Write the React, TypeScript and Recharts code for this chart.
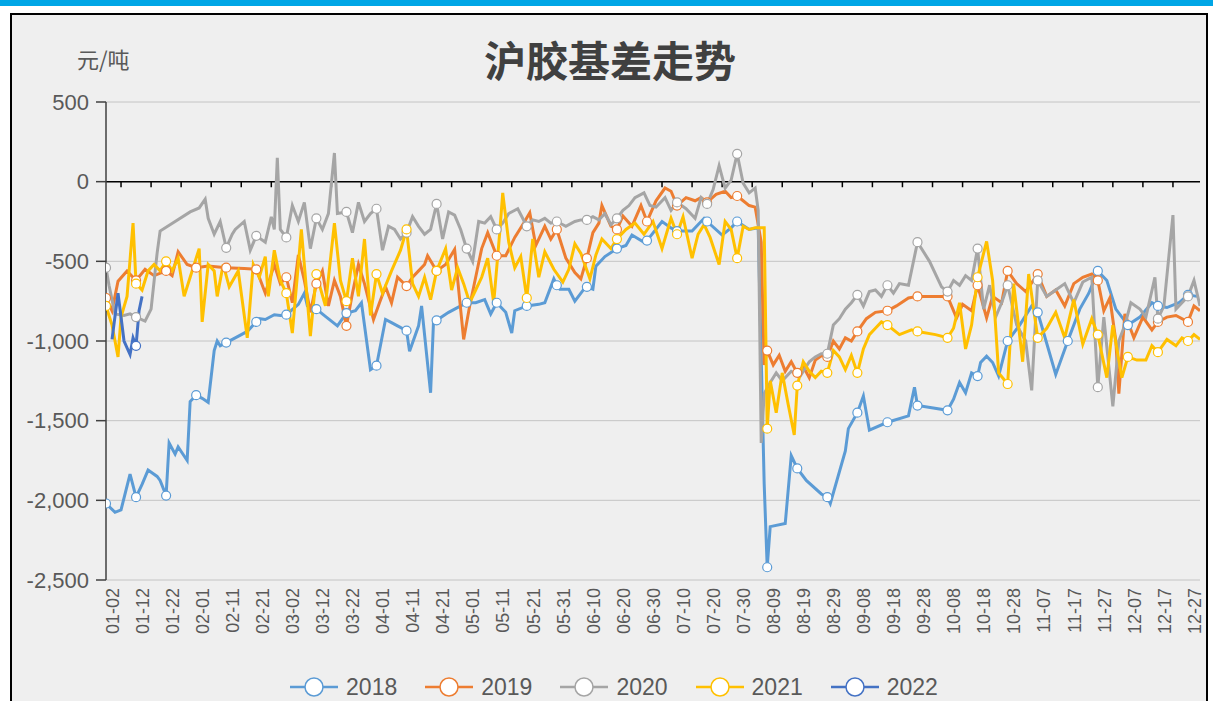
import React from 'react';
import { LineChart, Line, XAxis, YAxis, CartesianGrid, ReferenceLine, Legend } from 'recharts';

// x = day of year on a 2020 (leap) calendar, 2 = 01-02 ... 366 = 12-31
// each series: [day, basis 元/吨]
const s2018: [number, number][] = [
  [2, -2020], [5, -2075], [7, -2060], [10, -1835], [12, -1980], [14, -1900], [16, -1810], [19, -1850],
  [20, -1875], [22, -1970], [23, -1640], [25, -1710], [26, -1665], [29, -1750], [30, -1380], [32, -1340],
  [34, -1360], [36, -1385], [38, -1060], [39, -1000], [40, -1030], [42, -1010], [45, -980], [49, -940],
  [52, -880], [53, -860], [55, -865], [58, -835], [60, -840], [62, -835], [66, -770], [68, -700],
  [69, -780], [72, -800], [75, -845], [79, -905], [82, -825], [85, -810], [87, -760], [90, -1180],
  [92, -1155], [95, -865], [97, -885], [99, -905], [102, -935], [103, -1065], [106, -905], [107, -780],
  [110, -1325], [111, -865], [112, -870], [116, -820], [118, -800], [122, -760], [125, -760], [128, -740],
  [130, -830], [132, -760], [135, -820], [137, -950], [138, -810], [142, -780], [146, -770], [148, -760],
  [151, -610], [152, -650], [153, -675], [156, -675], [158, -750], [161, -675], [162, -660], [164, -675],
  [165, -530], [168, -470], [172, -420], [175, -400], [177, -335], [181, -380], [182, -370], [187, -250],
  [190, -290], [192, -310], [197, -310], [201, -230], [202, -250], [207, -335], [210, -290], [212, -250],
  [216, -300], [219, -290], [221, -1900], [222, -2420], [223, -2165], [228, -2145], [230, -1720], [232, -1800],
  [235, -1875], [240, -1960], [242, -1980], [243, -2020], [248, -1690], [249, -1550], [252, -1450], [254, -1345],
  [256, -1560], [262, -1510], [269, -1470], [271, -1290], [272, -1405], [282, -1435], [284, -1365], [286, -1260],
  [288, -1325], [290, -1200], [292, -1220], [293, -1135], [295, -1095], [297, -1135], [299, -1220], [302, -1000],
  [306, -900], [310, -780], [312, -820], [314, -950], [318, -1210], [322, -1000], [326, -800], [329, -700],
  [332, -560], [335, -620], [338, -800], [342, -900], [346, -850], [350, -760], [352, -780], [355, -790],
  [359, -760], [362, -710], [365, -720],
];

const s2019: [number, number][] = [
  [2, -730], [4, -810], [6, -625], [9, -560], [12, -620], [15, -550], [18, -590], [22, -560],
  [24, -590], [26, -440], [29, -520], [32, -540], [36, -530], [42, -540], [48, -545], [52, -550],
  [55, -700], [58, -520], [60, -640], [62, -600], [64, -760], [66, -460], [68, -620], [70, -820],
  [72, -640], [74, -560], [76, -780], [78, -620], [80, -720], [82, -905], [84, -700], [86, -520],
  [88, -640], [91, -865], [93, -760], [95, -660], [97, -760], [99, -600], [102, -655], [104, -600],
  [106, -560], [108, -520], [109, -465], [112, -560], [115, -520], [118, -425], [121, -990], [123, -780],
  [125, -600], [127, -420], [129, -320], [132, -465], [135, -465], [138, -350], [141, -260], [143, -195],
  [145, -400], [148, -280], [150, -360], [152, -300], [155, -480], [158, -570], [160, -610], [162, -480],
  [164, -320], [166, -260], [167, -150], [170, -280], [172, -300], [174, -215], [177, -280], [180, -150],
  [182, -250], [185, -120], [188, -40], [190, -60], [192, -150], [195, -100], [198, -120], [200, -100],
  [202, -130], [205, -80], [208, -60], [210, -100], [212, -90], [214, -120], [216, -150], [218, -160],
  [220, -380], [221, -1150], [222, -1060], [224, -1150], [226, -1090], [228, -1190], [230, -1130], [232, -1200],
  [234, -1160], [236, -1230], [238, -1120], [241, -1080], [242, -1100], [244, -1000], [246, -1050], [248, -980],
  [250, -1000], [252, -940], [255, -860], [258, -820], [262, -810], [265, -780], [269, -730], [272, -720],
  [278, -720], [282, -720], [285, -855], [287, -770], [290, -810], [292, -650], [295, -855], [297, -720],
  [300, -760], [302, -560], [305, -640], [308, -690], [312, -580], [315, -720], [318, -680], [321, -780],
  [324, -640], [327, -600], [330, -580], [332, -620], [334, -810], [336, -730], [338, -1000], [339, -1330],
  [341, -830], [344, -980], [347, -850], [350, -930], [352, -880], [355, -850], [358, -840], [362, -880],
  [364, -780], [366, -810],
];

const s2020: [number, number][] = [
  [2, -540], [3, -650], [5, -830], [8, -840], [10, -830], [12, -850], [15, -875], [17, -800],
  [19, -450], [20, -310], [25, -250], [30, -190], [33, -165], [35, -110], [36, -230], [38, -330],
  [40, -250], [42, -415], [44, -330], [45, -300], [48, -250], [50, -430], [52, -340], [55, -380],
  [57, -220], [58, -300], [59, 150], [60, -300], [62, -350], [64, -150], [66, -250], [68, -130],
  [70, -420], [72, -230], [74, -300], [76, -200], [78, 180], [79, -200], [82, -190], [84, -320],
  [86, -130], [88, -250], [90, -200], [92, -170], [94, -430], [96, -280], [98, -300], [100, -360],
  [102, -320], [104, -220], [106, -280], [108, -330], [110, -300], [112, -140], [114, -360], [116, -190],
  [118, -210], [120, -300], [122, -420], [124, -500], [126, -250], [128, -260], [130, -220], [132, -300],
  [134, -260], [136, -200], [139, -170], [142, -280], [144, -240], [146, -250], [148, -230], [150, -260],
  [152, -250], [155, -280], [158, -250], [160, -240], [162, -240], [164, -220], [166, -240], [168, -200],
  [170, -270], [172, -230], [174, -180], [176, -150], [178, -100], [181, -70], [183, -150], [185, -160],
  [188, -100], [190, -180], [192, -130], [195, -170], [198, -230], [200, -100], [202, -140], [204, -50],
  [206, 100], [208, -40], [210, 10], [212, 175], [214, -10], [216, -70], [218, -40], [219, -180],
  [220, -1640], [221, -1330], [223, -1260], [225, -1200], [227, -1250], [230, -1190], [233, -1220], [236, -1130],
  [238, -1100], [240, -1080], [242, -1080], [244, -900], [246, -860], [248, -800], [250, -760], [252, -710],
  [254, -780], [256, -690], [258, -680], [260, -720], [262, -650], [264, -700], [266, -640], [269, -650],
  [272, -380], [276, -500], [280, -660], [282, -690], [284, -620], [286, -650], [288, -590], [290, -620],
  [292, -420], [294, -800], [296, -650], [298, -850], [300, -760], [302, -650], [305, -900], [308, -1000],
  [310, -1310], [312, -620], [315, -720], [318, -680], [321, -640], [324, -760], [327, -630], [330, -600],
  [332, -1290], [334, -850], [337, -1410], [339, -1000], [341, -900], [343, -760], [346, -800], [348, -850],
  [351, -600], [352, -860], [354, -780], [357, -210], [358, -800], [360, -760], [362, -720], [364, -620],
  [366, -780],
];

const s2021: [number, number][] = [
  [2, -780], [4, -900], [6, -1100], [7, -850], [9, -720], [11, -260], [12, -640], [14, -680],
  [16, -560], [18, -520], [20, -560], [22, -500], [24, -560], [26, -480], [28, -720], [30, -600],
  [33, -420], [34, -880], [36, -520], [38, -560], [39, -720], [41, -520], [43, -660], [46, -560],
  [49, -980], [51, -520], [53, -600], [55, -470], [56, -720], [58, -430], [60, -620], [62, -700],
  [64, -950], [67, -300], [70, -970], [72, -580], [75, -780], [78, -260], [80, -620], [82, -750],
  [84, -480], [86, -720], [88, -360], [90, -840], [92, -580], [94, -700], [97, -560], [100, -430],
  [102, -300], [104, -640], [106, -720], [108, -600], [110, -740], [112, -560], [115, -420], [117, -680],
  [119, -540], [121, -640], [123, -760], [125, -680], [127, -600], [129, -480], [131, -760], [133, -320],
  [134, -70], [136, -380], [138, -540], [140, -470], [142, -730], [144, -360], [146, -600], [148, -440],
  [151, -550], [154, -630], [156, -550], [158, -390], [160, -450], [163, -610], [165, -460], [167, -360],
  [170, -420], [172, -360], [175, -300], [178, -260], [181, -330], [184, -250], [187, -420], [190, -230],
  [192, -330], [194, -220], [197, -480], [199, -330], [201, -270], [203, -350], [206, -520], [208, -250],
  [210, -300], [212, -480], [214, -280], [216, -300], [218, -290], [221, -290], [222, -1550], [223, -1250],
  [225, -1450], [227, -1200], [229, -1400], [231, -1590], [232, -1280], [234, -1130], [236, -1190], [238, -1230],
  [240, -1190], [242, -1200], [244, -1060], [246, -1100], [248, -1180], [250, -1090], [252, -1200], [254, -1050],
  [256, -960], [258, -920], [260, -880], [262, -900], [266, -960], [270, -930], [272, -940], [278, -960],
  [282, -980], [284, -920], [286, -760], [288, -1050], [290, -900], [292, -600], [295, -375], [297, -620],
  [299, -1200], [302, -1270], [304, -640], [307, -1130], [309, -580], [312, -980], [315, -920], [318, -820],
  [321, -980], [324, -740], [327, -1020], [330, -860], [332, -960], [335, -1230], [337, -900], [340, -1230],
  [342, -1100], [345, -1120], [348, -1120], [350, -1030], [352, -1070], [355, -990], [358, -1030], [360, -980],
  [362, -1000], [364, -960], [366, -990],
];

const s2022: [number, number][] = [
  [4, -990], [6, -700], [8, -1000], [10, -1085], [11, -980], [12, -1030], [13, -810], [14, -720],
];

const years = ['2018', '2019', '2020', '2021', '2022'];
const colors = ['#5b9bd5', '#ed7d31', '#a5a5a5', '#ffc000', '#4472c4'];
const series = [s2018, s2019, s2020, s2021, s2022];
const yTicks = [-2500, -2000, -1500, -1000, -500, 0, 500];

// labels every 10 days from 01-02 to 12-27, tick marks on the zero line sit between them
const labelDays = Array.from({ length: 37 }, (_, i) => 2 + i * 10);
const zeroTicks = labelDays.map((d) => d + 5).filter((d) => d < 366);

const fmtDay = (d: number) => {
  const dt = new Date(Date.UTC(2020, 0, d));
  const mm = String(dt.getUTCMonth() + 1).padStart(2, '0');
  const dd = String(dt.getUTCDate()).padStart(2, '0');
  return `${mm}-${dd}`;
};

// merge all years onto one day axis
const days = Array.from(new Set(series.flatMap((s) => s.map((p) => p[0])))).sort((a, b) => a - b);
const chartData = days.map((d) => {
  const row: Record<string, number> = { d };
  series.forEach((s, i) => {
    const p = s.find((q) => q[0] === d);
    if (p) row[years[i]] = p[1];
  });
  return row;
});

const markerDot = (color: string) => (props: any) => {
  const { cx, cy, payload, value, index } = props;
  if (value == null || cx == null || cy == null || !labelDays.includes(payload.d)) {
    return <g key={`n-${index}`} />;
  }
  return <circle key={`m-${index}`} cx={cx} cy={cy} r={4.5} fill="#fff" stroke={color} strokeWidth={1.2} />;
};

const renderLegend = () => (
  <div style={{ display: 'flex', justifyContent: 'center', alignItems: 'center', height: 36 }}>
    {years.map((y, i) => (
      <div key={y} style={{ display: 'flex', alignItems: 'center', margin: '0 14px' }}>
        <svg width={48} height={26}>
          <line x1={0} y1={13} x2={48} y2={13} stroke={colors[i]} strokeWidth={2.5} />
          <circle cx={24} cy={13} r={9} fill="#fff" stroke={colors[i]} strokeWidth={1.5} />
        </svg>
        <span style={{ fontSize: 23, color: '#595959', marginLeft: 8 }}>{y}</span>
      </div>
    ))}
  </div>
);

export default function App() {
  return (
    <div
      style={{
        position: 'absolute',
        left: 0,
        top: 0,
        width: 1213,
        height: 701,
        background: '#fff',
        overflow: 'hidden',
        fontFamily: '"Liberation Sans", Arial, sans-serif',
      }}
    >
      <div style={{ position: 'absolute', left: 0, top: 0, width: 1213, height: 6, background: '#00a6e6' }} />
      <div
        style={{
          position: 'absolute',
          left: 10,
          top: 13,
          width: 1198,
          height: 700,
          border: '2px solid #000',
          boxSizing: 'border-box',
          background: '#efefef',
        }}
      />
      <div
        style={{
          position: 'absolute',
          left: 0,
          top: 37,
          width: 1220,
          textAlign: 'center',
          fontSize: 42,
          lineHeight: '44px',
          fontWeight: 'bold',
          color: '#404040',
          fontFamily: '"Noto Sans CJK SC", sans-serif',
        }}
      >
        沪胶基差走势
      </div>
      <div
        style={{
          position: 'absolute',
          left: 77,
          top: 45,
          fontSize: 22,
          lineHeight: '26px',
          color: '#595959',
          fontFamily: '"Noto Sans CJK SC", sans-serif',
        }}
      >
        元/吨
      </div>
      <div style={{ position: 'absolute', left: 0, top: 0 }}>
        <LineChart width={1213} height={701} data={chartData} margin={{ top: 102, right: 13, bottom: 5, left: 0 }}>
          <CartesianGrid horizontal vertical={false} stroke="#c4c4c4" />
          <XAxis
            type="number"
            dataKey="d"
            domain={[2, 366]}
            ticks={labelDays}
            interval={0}
            tickFormatter={fmtDay}
            angle={-90}
            textAnchor="end"
            axisLine={false}
            tickLine={false}
            height={80}
            allowDataOverflow
            tick={{ fill: '#595959', fontSize: 18 }}
          />
          <YAxis
            domain={[-2500, 500]}
            ticks={yTicks}
            interval={0}
            width={106}
            tickSize={10}
            tickMargin={7}
            tickFormatter={(v: number) => v.toLocaleString('en-US')}
            axisLine={{ stroke: '#404040', strokeWidth: 1.5 }}
            tickLine={{ stroke: '#404040', strokeWidth: 1.5 }}
            tick={{ fill: '#595959', fontSize: 22 }}
          />
          <ReferenceLine y={0} stroke="#000" strokeWidth={1.5} />
          {zeroTicks.map((t) => (
            <ReferenceLine
              key={t}
              segment={[{ x: t, y: 0 }, { x: t, y: -35 }]}
              stroke="#000"
              strokeWidth={1.5}
            />
          ))}
          <Legend
            verticalAlign="bottom"
            height={36}
            content={renderLegend}
            wrapperStyle={{ left: 0, width: 1228, bottom: -4 }}
          />
          {years.map((y, i) => (
            <Line
              key={y}
              type="linear"
              dataKey={y}
              stroke={colors[i]}
              strokeWidth={3}
              connectNulls
              dot={markerDot(colors[i])}
              activeDot={false}
              isAnimationActive={false}
            />
          ))}
        </LineChart>
      </div>
    </div>
  );
}
